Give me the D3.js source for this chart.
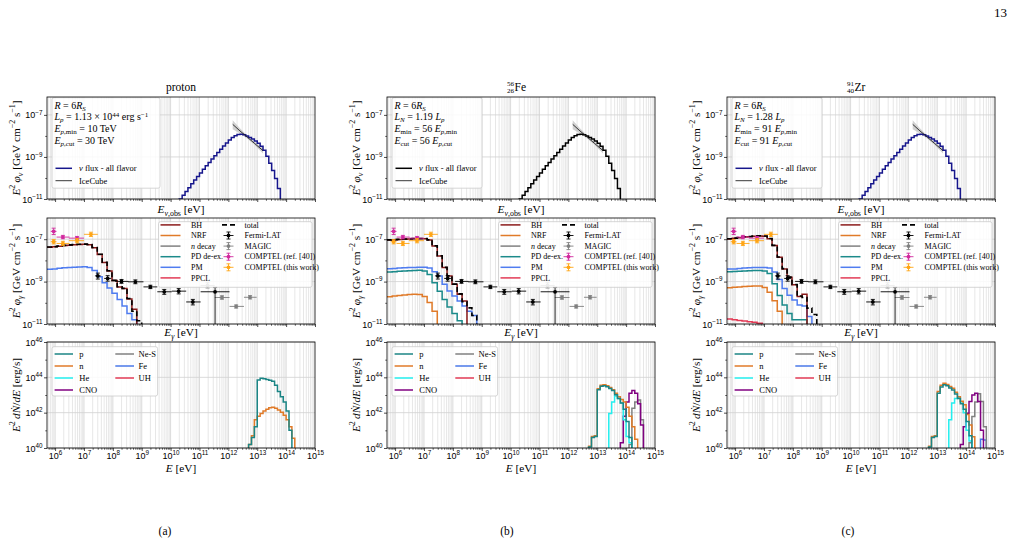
<!DOCTYPE html>
<html>
<head>
<meta charset="utf-8">
<script src="https://cdnjs.cloudflare.com/ajax/libs/d3/7.8.5/d3.min.js"></script>
<style>
  body { margin: 0; background: #fff; }
  svg { font-family: "Liberation Serif", "DejaVu Serif", serif; }
</style>
</head>
<body>
<div id="fig"></div>
<script>
// ---- values (all log10) ----

// neutrino flux, E^2 phi_nu (same shape in the three columns)
var nuE = [10.2, 10.3, 10.4, 10.5, 10.6, 10.7, 10.8, 10.9, 11.0, 11.1, 11.2, 11.3, 11.4, 11.5, 11.6, 11.7, 11.8, 11.9, 12.0,
           12.1, 12.2, 12.3, 12.4, 12.5, 12.6, 12.7, 12.8, 12.9, 13.0, 13.1, 13.2, 13.3, 13.4, 13.5, 13.6, 13.7, 13.8, 13.9];
var nuFlux = [-11.2, -11.0, -10.82, -10.64, -10.46, -10.28, -10.1, -9.93, -9.76, -9.59, -9.42, -9.26, -9.1, -8.94, -8.79, -8.64, -8.48, -8.34, -8.2,
              -8.08, -7.99, -7.93, -7.92, -7.95, -8.0, -8.07, -8.15, -8.24, -8.35, -8.49, -8.68, -8.97, -9.3, -9.64, -10.02, -10.5, -11.1, -11.8];

// IceCube fit with band
var icE = [12.15, 12.4, 12.65, 12.9, 13.2];
var icFit = [-7.45, -7.76, -8.05, -8.35, -8.7];
var icLo = [-7.68, -7.88, -8.12, -8.42, -8.84];
var icHi = [-7.25, -7.63, -7.98, -8.28, -8.57];

// gamma-ray components, E^2 phi_gamma
var gE = [5.72, 5.9, 6.07, 6.24, 6.42, 6.59, 6.76, 6.94, 7.11, 7.28, 7.46, 7.63, 7.8, 7.97, 8.15, 8.32, 8.49, 8.66, 8.83, 9.0];
var bhP   = [-7.38, -7.36, -7.33, -7.3, -7.28, -7.26, -7.25, -7.24, -7.26, -7.4, -7.72, -8.1, -8.5, -8.95, -9.25, -9.33, -9.82, -10.3, -12, -12];
var totP  = [-7.37, -7.35, -7.32, -7.29, -7.27, -7.25, -7.24, -7.23, -7.25, -7.39, -7.71, -8.09, -8.49, -8.94, -9.24, -9.32, -9.8, -10.4, -10.85, -12];
var pmP   = [-8.42, -8.4, -8.37, -8.35, -8.33, -8.32, -8.31, -8.3, -8.34, -8.48, -8.77, -9.05, -9.3, -9.55, -9.85, -10.15, -10.5, -10.8, -12, -12];

var bhFe  = [-7.04, -7.03, -7.02, -7.0, -6.99, -6.98, -6.98, -6.98, -7.04, -7.32, -7.79, -8.34, -8.74, -9.13, -9.6, -9.92, -12, -12, -12, -12];
var totFe = [-7.03, -7.02, -7.01, -6.99, -6.98, -6.97, -6.97, -6.97, -7.03, -7.31, -7.78, -8.33, -8.73, -9.12, -9.58, -9.95, -10.24, -10.6, -12, -12];
var nrfFe = [-9.71, -9.68, -9.65, -9.63, -9.61, -9.6, -9.61, -9.7, -9.98, -10.4, -12, -12, -12, -12, -12, -12, -12, -12, -12, -12];
var pdFe  = [-8.55, -8.53, -8.51, -8.5, -8.49, -8.48, -8.47, -8.5, -8.66, -9.05, -9.45, -9.85, -10.2, -10.5, -10.85, -12, -12, -12, -12, -12];
var pmFe  = [-8.39, -8.38, -8.36, -8.35, -8.34, -8.33, -8.32, -8.32, -8.36, -8.53, -8.74, -9.13, -9.44, -9.68, -9.92, -10.15, -10.4, -10.6, -12, -12];

var bhZr  = [-6.99, -6.96, -6.93, -6.9, -6.88, -6.86, -6.85, -6.86, -6.98, -7.3, -7.85, -8.4, -8.8, -9.15, -9.7, -9.6, -12, -12, -12, -12];
var totZr = [-6.98, -6.95, -6.92, -6.89, -6.87, -6.85, -6.84, -6.85, -6.97, -7.29, -7.84, -8.39, -8.79, -9.14, -9.68, -9.75, -10.25, -10.55, -12, -12];
var nrfZr = [-9.29, -9.27, -9.25, -9.23, -9.22, -9.21, -9.21, -9.28, -9.5, -9.9, -10.4, -12, -12, -12, -12, -12, -12, -12, -12, -12];
var pdZr  = [-8.53, -8.52, -8.51, -8.5, -8.49, -8.48, -8.48, -8.5, -8.62, -9.1, -9.65, -10.1, -10.5, -10.8, -10.8, -10.8, -12, -12, -12, -12];
var pmZr  = [-8.41, -8.4, -8.38, -8.36, -8.35, -8.34, -8.33, -8.33, -8.36, -8.55, -8.9, -9.32, -9.64, -9.87, -10.1, -10.15, -10.65, -12, -12, -12];
var ppclZr = [-10.77, -10.8, -10.83, -10.86, -10.89, -10.92, -10.96, -12, -12, -12, -12, -12, -12, -12, -12, -12, -12, -12, -12, -12];

// gamma-ray data points
var fermiE   = [7.48, 7.82, 8.3, 8.78, 9.3, 9.78, 10.28, 10.77, 11.54];
var fermiElo = [7.38, 7.7, 8.08, 8.52, 9.06, 9.54, 10.04, 10.54, 11.04];
var fermiEhi = [7.58, 7.94, 8.54, 9.06, 9.54, 10.04, 10.54, 11.04, 12.04];
var fermiY   = [-8.73, -8.85, -8.99, -9.01, -9.25, -9.48, -9.45, -9.96, -9.48];
var fermiYlo = [-8.88, -8.98, -9.08, -9.1, -9.33, -9.6, -9.58, -10.1, -12];
var fermiYhi = [-8.6, -8.72, -8.9, -8.92, -9.17, -9.37, -9.33, -9.84, -9.27];

var magicE   = [11.28, 11.78, 12.27, 12.75];
var magicElo = [11.04, 11.53, 12.04, 12.54];
var magicEhi = [11.53, 12.04, 12.54, 12.98];
var magicY   = [-9.18, -9.75, -10.17, -9.74];
var magicYlo = [-9.3, -9.83, -10.25, -9.82];
var magicYhi = [-9.05, -9.67, -10.1, -9.66];

var compRefE   = [5.95, 6.27, 6.76];
var compRefElo = [5.85, 6.05, 6.48];
var compRefEhi = [6.05, 6.5, 7.0];
var compRefY   = [-6.63, -6.9, -6.95];
var compRefYlo = [-6.78, -6.98, -7.03];
var compRefYhi = [-6.48, -6.82, -6.87];

var compE   = [5.95, 6.27, 6.76, 7.24];
var compElo = [5.85, 6.05, 6.48, 7.0];
var compEhi = [6.05, 6.5, 7.0, 7.48];
var compY   = [-7.12, -7.2, -7.07, -6.77];
var compYlo = [-7.22, -7.3, -7.17, -6.87];
var compYhi = [-7.02, -7.1, -6.97, -6.67];

// escaping nuclei, E^2 dN/dE  (39 = below the axis)
var nE = [12.6, 12.7, 12.8, 12.9, 13.0, 13.1, 13.2, 13.3, 13.4, 13.5, 13.6, 13.7, 13.8, 13.9, 14.0, 14.1, 14.2, 14.3, 14.4, 14.5, 14.6, 14.7, 14.8];
var pP   = [39, 40.2, 40.6, 41.2, 43.85, 43.95, 43.92, 43.88, 43.83, 43.78, 43.55, 43.2, 42.9, 42.6, 42.1, 41.0, 39, 39, 39, 39, 39, 39, 39];
var nP   = [39, 40.2, 40.7, 41.6, 41.8, 41.95, 42.1, 42.2, 42.28, 42.3, 42.25, 42.15, 42.03, 41.85, 41.6, 41.2, 40.55, 39, 39, 39, 39, 39, 39];

var pFe   = [39, 40.05, 40.6, 40.65, 43.3, 43.5, 43.53, 43.47, 43.37, 43.25, 43.02, 42.8, 42.55, 42.2, 41.5, 40.6, 39, 39, 39, 39, 39, 39, 39];
var nFe   = [39, 40.1, 40.65, 40.7, 43.35, 43.55, 43.58, 43.52, 43.42, 43.3, 43.1, 42.9, 42.75, 42.6, 42.3, 41.8, 41.2, 40.5, 39, 39, 39, 39, 39];
var heFe  = [39, 39, 39, 39, 39, 39, 39, 39, 41.95, 42.6, 42.95, 42.8, 42.55, 41.6, 40.65, 40.3, 39, 39, 39, 39, 39, 39, 39];
var cnoFe = [39, 39, 39, 39, 39, 39, 39, 39, 39, 39, 39, 39, 40.3, 41.8, 42.6, 43.1, 43.25, 43.1, 42.5, 41.3, 39, 39, 39];
var nesFe = [39, 39, 39, 39, 39, 39, 39, 39, 39, 39, 39, 39, 39, 39, 39, 40.2, 42.25, 42.6, 42.72, 41.6, 39, 39, 39];

var pZr   = [39, 40.05, 40.6, 40.65, 43.1, 43.45, 43.58, 43.52, 43.4, 43.28, 43.05, 42.8, 42.5, 42.2, 41.5, 40.7, 39, 39, 39, 39, 39, 39, 39];
var nZr   = [39, 40.1, 40.65, 40.7, 43.2, 43.55, 43.67, 43.6, 43.48, 43.38, 43.15, 42.9, 42.65, 42.45, 41.9, 41.3, 40.64, 39, 39, 39, 39, 39, 39];
var heZr  = [39, 39, 39, 39, 39, 39, 39, 39, 41.6, 42.55, 42.8, 42.85, 42.6, 42.0, 41.0, 40.4, 39, 39, 39, 39, 39, 39, 39];
var cnoZr = [39, 39, 39, 39, 39, 39, 39, 39, 39, 39, 39, 39, 40.2, 41.2, 41.97, 42.63, 43.0, 43.1, 42.63, 41.0, 39, 39, 39];
var nesZr = [39, 39, 39, 39, 39, 39, 39, 39, 39, 39, 39, 39, 39, 39, 39, 40.3, 41.78, 42.6, 43.07, 42.63, 41.2, 39, 39];
var feZr  = [39, 39, 39, 39, 39, 39, 39, 39, 39, 39, 39, 39, 39, 39, 39, 39, 39, 39, 39, 40.5, 40.45, 39, 39];

// ---- colours ----
var C = {
  navy: "#16168c", BH: "#8b1a1a", NRF: "#e07a28", ndec: "#808080", PD: "#1b8a8a", PM: "#4f7cf0", PPCL: "#e23a55",
  fermi: "#000000", magic: "#7f7f7f", compRef: "#d1299e", comp: "#ffa515",
  p: "#1b8585", n: "#e07a28", He: "#22eeee", CNO: "#800080", NeS: "#808080", Fe: "#4a78e8", UH: "#e23a55"
};

// ---- layout ----
var svgWidth = 1019, svgHeight = 546;
var PW = 268;
var colLeft = [47, 387, 727];
var rowTop = {top: 97, mid: 218, bot: 342};
var rowH = {top: 102, mid: 106, bot: 106};
var LABFS = 11.3;

var svg = d3.select("#fig").append("svg")
  .attr("width", svgWidth)
  .attr("height", svgHeight);

var xScale = d3.scaleLog().domain([Math.pow(10, 5.72), 1e15]).range([0, PW]);
var yScales = {
  top: d3.scaleLog().domain([1e-11, Math.pow(10, -6.15)]).range([rowH.top, 0]),
  mid: d3.scaleLog().domain([1e-11, 1e-6]).range([rowH.mid, 0]),
  bot: d3.scaleLog().domain([1e40, 1e46]).range([rowH.bot, 0])
};
var yMajor = {top: [-11, -9, -7], mid: [-11, -9, -7], bot: [40, 42, 44, 46]};
var yMinorDec = {top: [-10, -8], mid: [-10, -8], bot: [41, 43, 45]};

var xMajor = d3.range(6, 16).map(function(n) { return Math.pow(10, n); });
var xMinor = [];
for (var n = 5; n < 15; n++) {
  for (var k = 2; k < 10; k++) {
    var v = k * Math.pow(10, n);
    if (v > Math.pow(10, 5.72) && v < 1e15) xMinor.push(v);
  }
}

// text with italics / sub / superscripts
// kinds: "" roman, "i" italic, "s" sub, "is" italic sub, "p" sup, "ip" italic sup
function rich(t, parts, fs, subF, supF) {
  var shift = 0;
  subF = subF || 0.28;
  supF = supF || 0.42;
  parts.forEach(function(pt) {
    var s = pt[0], kd = pt[1];
    var sp = t.append("tspan").text(s);
    var target = 0;
    var small = kd.indexOf("s") >= 0 || kd.indexOf("p") >= 0;
    if (kd.indexOf("s") >= 0) target = fs * subF;
    if (kd.indexOf("p") >= 0) target = -fs * supF;
    if (target - shift !== 0) sp.attr("dy", target - shift);
    shift = target;
    if (small) sp.attr("font-size", fs * 0.7);
    if (kd.indexOf("i") >= 0) sp.attr("font-style", "italic");
  });
  return t;
}

function lg(a) { return Math.pow(10, a); }

var clipCount = 0;
function makePanel(ci, row, showXLabels) {
  var h = rowH[row];
  var y = yScales[row];
  var g = svg.append("g").attr("transform", "translate(" + colLeft[ci] + "," + rowTop[row] + ")");
  var cid = "clip" + (clipCount++);
  svg.append("clipPath").attr("id", cid).append("rect").attr("width", PW).attr("height", h);

  // grid
  var grid = g.append("g");
  grid.selectAll(".gmin").data(xMinor).enter().append("line")
    .attr("x1", function(d) { return xScale(d); }).attr("x2", function(d) { return xScale(d); })
    .attr("y1", 0).attr("y2", h).attr("stroke", "#e1e1e1").attr("stroke-width", 0.8);
  grid.selectAll(".gmaj").data(xMajor.slice(0, 9)).enter().append("line")
    .attr("x1", function(d) { return xScale(d); }).attr("x2", function(d) { return xScale(d); })
    .attr("y1", 0).attr("y2", h).attr("stroke", "#d0d0d0").attr("stroke-width", 0.8);
  grid.selectAll(".gy").data(yMajor[row]).enter().append("line")
    .attr("x1", 0).attr("x2", PW)
    .attr("y1", function(d) { return y(lg(d)); }).attr("y2", function(d) { return y(lg(d)); })
    .attr("stroke", "#d0d0d0").attr("stroke-width", 0.8);

  var plot = g.append("g").attr("clip-path", "url(#" + cid + ")");

  // axes
  var bottomAxis = d3.axisBottom(xScale).tickValues(xMajor).tickSize(3).tickFormat(function() { return ""; });
  var axB = g.append("g").attr("transform", "translate(0," + h + ")").call(bottomAxis);
  axB.select(".domain").remove();
  var minorAxis = d3.axisBottom(xScale).tickValues(xMinor).tickSize(1.8).tickFormat(function() { return ""; });
  var axBm = g.append("g").attr("transform", "translate(0," + h + ")").call(minorAxis);
  axBm.select(".domain").remove();
  axB.selectAll("line").attr("stroke-width", 0.7);
  axBm.selectAll("line").attr("stroke-width", 0.6);
  if (showXLabels) {
    axB.selectAll(".tick").each(function(d) {
      var t = d3.select(this).append("text").attr("y", 11).attr("fill", "#000")
        .attr("font-size", 9).attr("text-anchor", "middle").attr("dy", 0);
      rich(t, [["10", ""], [String(Math.round(Math.log10(d))), "p"]], 9);
    });
  }

  var leftAxis = d3.axisLeft(y).tickValues(yMajor[row].map(lg)).tickSize(3).tickFormat(function() { return ""; });
  var axL = g.append("g").call(leftAxis);
  axL.select(".domain").remove();
  axL.selectAll("line").attr("stroke-width", 0.7);
  axL.selectAll(".tick").each(function(d) {
    var e = Math.round(Math.log10(d));
    var t = d3.select(this).append("text").attr("x", -4.5).attr("y", 3).attr("fill", "#000")
      .attr("font-size", 9).attr("text-anchor", "end").attr("dy", 0);
    rich(t, [["10", ""], [String(e).replace("-", "\u2212"), "p"]], 9);
  });
  var minorLeft = d3.axisLeft(y).tickValues(yMinorDec[row].map(lg)).tickSize(1.8).tickFormat(function() { return ""; });
  var axLm = g.append("g").call(minorLeft);
  axLm.select(".domain").remove();
  axLm.selectAll("line").attr("stroke-width", 0.6);

  return {g: g, plot: plot, h: h, y: y, frame: function() {
    g.append("rect").attr("width", PW).attr("height", h).attr("fill", "none").attr("stroke", "#000").attr("stroke-width", 0.8);
  }};
}

function stepLine(p, E, Y, color, w, dash) {
  var pts = E.map(function(e, i) { return [lg(e), lg(Y[i])]; });
  var line = d3.line()
    .x(function(d) { return xScale(d[0]); })
    .y(function(d) { return p.y(d[1]); })
    .curve(d3.curveStepAfter);
  var path = p.plot.append("path").datum(pts)
    .attr("d", line).attr("fill", "none").attr("stroke", color).attr("stroke-width", w || 1.4);
  if (dash) path.attr("stroke-dasharray", dash);
  return path;
}

function errPoints(p, E, Elo, Ehi, Y, Ylo, Yhi, color) {
  var gg = p.plot.append("g").attr("stroke", color).attr("stroke-width", 0.9);
  E.forEach(function(e, i) {
    var cx = xScale(lg(e)), cy = p.y(lg(Y[i]));
    var y1 = p.y(lg(Ylo[i])), y2 = p.y(lg(Yhi[i]));
    gg.append("line").attr("x1", xScale(lg(Elo[i]))).attr("x2", xScale(lg(Ehi[i]))).attr("y1", cy).attr("y2", cy);
    gg.append("line").attr("x1", cx).attr("x2", cx).attr("y1", y1).attr("y2", y2);
    gg.append("line").attr("x1", cx - 2).attr("x2", cx + 2).attr("y1", y1).attr("y2", y1);
    gg.append("line").attr("x1", cx - 2).attr("x2", cx + 2).attr("y1", y2).attr("y2", y2);
    gg.append("circle").attr("cx", cx).attr("cy", cy).attr("r", 1.9).attr("fill", color).attr("stroke", "none");
  });
}

function legendBox(g, x0, y0, w, h) {
  g.append("rect").attr("x", x0).attr("y", y0).attr("width", w).attr("height", h).attr("rx", 2)
    .attr("fill", "#fff").attr("fill-opacity", 0.85).attr("stroke", "#cccccc").attr("stroke-width", 0.8);
}

function legText(g, x0, y0, parts, fs, subF, supF) {
  var t = g.append("text").attr("x", x0).attr("y", y0).attr("font-size", fs).attr("fill", "#000");
  rich(t, parts, fs, subF, supF);
}

// ---- column descriptions ----
var columns = [
  {
    title: "proton", nuColor: C.navy, boxW: 108,
    params: [
      [["R", "i"], [" = 6", ""], ["R", "i"], ["S", "is"]],
      [["L", "i"], ["p", "is"], [" = 1.13 \u00d7 10", ""], ["44", "p"], [" erg s", ""], ["\u22121", "p"]],
      [["E", "i"], ["p", "is"], [",min", "s"], [" = 10 TeV", ""]],
      [["E", "i"], ["p", "is"], [",cut", "s"], [" = 30 TeV", ""]]
    ],
    gamma: [[pmP, C.PM], [bhP, C.BH]], total: totP,
    nuclei: [[nP, C.n], [pP, C.p]]
  },
  {
    title: "Fe", A: "56", Z: "26", nuColor: "#000000", boxW: 90,
    params: [
      [["R", "i"], [" = 6", ""], ["R", "i"], ["S", "is"]],
      [["L", "i"], ["N", "is"], [" = 1.19 ", ""], ["L", "i"], ["p", "is"]],
      [["E", "i"], ["min", "s"], [" = 56 ", ""], ["E", "i"], ["p", "is"], [",min", "s"]],
      [["E", "i"], ["cut", "s"], [" = 56 ", ""], ["E", "i"], ["p", "is"], [",cut", "s"]]
    ],
    gamma: [[nrfFe, C.NRF], [pdFe, C.PD], [pmFe, C.PM], [bhFe, C.BH]], total: totFe,
    nuclei: [[nesFe, C.NeS], [cnoFe, C.CNO], [heFe, C.He], [nFe, C.n], [pFe, C.p]]
  },
  {
    title: "Zr", A: "91", Z: "40", nuColor: C.navy, boxW: 90,
    params: [
      [["R", "i"], [" = 6", ""], ["R", "i"], ["S", "is"]],
      [["L", "i"], ["N", "is"], [" = 1.28 ", ""], ["L", "i"], ["p", "is"]],
      [["E", "i"], ["min", "s"], [" = 91 ", ""], ["E", "i"], ["p", "is"], [",min", "s"]],
      [["E", "i"], ["cut", "s"], [" = 91 ", ""], ["E", "i"], ["p", "is"], [",cut", "s"]]
    ],
    gamma: [[ppclZr, C.PPCL], [nrfZr, C.NRF], [pdZr, C.PD], [pmZr, C.PM], [bhZr, C.BH]], total: totZr,
    nuclei: [[feZr, C.Fe], [nesZr, C.NeS], [cnoZr, C.CNO], [heZr, C.He], [nZr, C.n], [pZr, C.p]]
  }
];

columns.forEach(function(col, ci) {
  var cx = colLeft[ci] + PW / 2;

  // title
  if (col.A) {
    svg.append("text").attr("x", cx - 7).attr("y", 86).attr("font-size", 7).attr("text-anchor", "end").text(col.A);
    svg.append("text").attr("x", cx - 7).attr("y", 92.5).attr("font-size", 7).attr("text-anchor", "end").text(col.Z);
    svg.append("text").attr("x", cx - 6.5).attr("y", 91).attr("font-size", 11.5).text(col.title);
  } else {
    svg.append("text").attr("x", cx).attr("y", 91).attr("font-size", 11.5).attr("text-anchor", "middle").text(col.title);
  }

  // ---------- top: neutrinos ----------
  var pt = makePanel(ci, "top", false);
  var band = d3.area()
    .x(function(d) { return xScale(lg(d[0])); })
    .y0(function(d) { return pt.y(lg(d[1])); })
    .y1(function(d) { return pt.y(lg(d[2])); });
  pt.plot.append("path").datum(icE.map(function(e, i) { return [e, icLo[i], icHi[i]]; }))
    .attr("d", band).attr("fill", "#bdbdbd").attr("fill-opacity", 0.7);
  stepLine(pt, nuE, nuFlux, col.nuColor, 1.5);
  pt.plot.append("path").datum(icE.map(function(e, i) { return [lg(e), lg(icFit[i])]; }))
    .attr("d", d3.line().x(function(d) { return xScale(d[0]); }).y(function(d) { return pt.y(d[1]); }))
    .attr("fill", "none").attr("stroke", "#222").attr("stroke-width", 0.9);
  legendBox(pt.g, 5, 0.7, col.boxW, 90.5);
  col.params.forEach(function(pp, i) { legText(pt.g, 7.5, 11.8 + i * 11.6, pp, 10, 0.2, 0.34); });
  pt.g.append("line").attr("x1", 8.5).attr("x2", 25).attr("y1", 71.3).attr("y2", 71.3).attr("stroke", col.nuColor).attr("stroke-width", 1.5);
  legText(pt.g, 32, 74.2, [["\u03bd", "i"], [" flux - all flavor", ""]], 8.5);
  pt.g.append("line").attr("x1", 8.5).attr("x2", 25).attr("y1", 83.7).attr("y2", 83.7).attr("stroke", "#222").attr("stroke-width", 0.9);
  legText(pt.g, 32, 86.7, [["IceCube", ""]], 8.5);
  pt.frame();
  var tx = pt.g.append("text").attr("x", PW / 2).attr("y", pt.h + 13.5).attr("font-size", LABFS).attr("text-anchor", "middle");
  rich(tx, [["E", "i"], ["\u03bd", "is"], [",obs", "s"], [" [eV]", ""]], LABFS);
  var ty = pt.g.append("text").attr("transform", "translate(-27.5," + (pt.h / 2) + ") rotate(-90)")
    .attr("font-size", LABFS).attr("text-anchor", "middle");
  rich(ty, [["E", "i"], ["2", "p"], ["\u2009\u03c6", "i"], ["\u03bd", "is"], [" [GeV cm", ""], ["\u22122", "p"], [" s", ""], ["\u22121", "p"], ["]", ""]], LABFS);

  // ---------- middle: gamma rays ----------
  var pm = makePanel(ci, "mid", false);
  col.gamma.forEach(function(s) { stepLine(pm, gE, s[0], s[1], 1.5); });
  stepLine(pm, gE, col.total, "#000", 1.6, "5,3");
  errPoints(pm, compRefE, compRefElo, compRefEhi, compRefY, compRefYlo, compRefYhi, C.compRef);
  errPoints(pm, compE, compElo, compEhi, compY, compYlo, compYhi, C.comp);
  errPoints(pm, magicE, magicElo, magicEhi, magicY, magicYlo, magicYhi, C.magic);
  errPoints(pm, fermiE, fermiElo, fermiEhi, fermiY, fermiYlo, fermiYhi, C.fermi);

  legendBox(pm.g, 111.5, 3.7, 153.5, 65.6);
  var legA = [["BH", C.BH, [["BH", ""]]], ["NRF", C.NRF, [["NRF", ""]]], ["nd", C.ndec, [["n", "i"], [" decay", ""]]],
              ["PD", C.PD, [["PD de-ex.", ""]]], ["PM", C.PM, [["PM", ""]]], ["PPCL", C.PPCL, [["PPCL", ""]]]];
  legA.forEach(function(L, i) {
    var yy = 9.6 + i * 10.6;
    pm.g.append("line").attr("x1", 113.5).attr("x2", 133.5).attr("y1", yy - 2.7).attr("y2", yy - 2.7)
      .attr("stroke", L[1]).attr("stroke-width", 1.5);
    legText(pm.g, 144, yy, L[2], 8);
  });
  var legB = [["total", "#000"], ["Fermi-LAT", C.fermi], ["MAGIC", C.magic], ["COMPTEL (ref. [40])", C.compRef], ["COMPTEL (this work)", C.comp]];
  legB.forEach(function(L, i) {
    var yy = 9.6 + i * 10.6, ly = yy - 2.7, sx = 181.5;
    if (i === 0) {
      pm.g.append("line").attr("x1", 175).attr("x2", 188).attr("y1", ly).attr("y2", ly)
        .attr("stroke", "#000").attr("stroke-width", 1.6).attr("stroke-dasharray", "5,3");
    } else {
      var sg = pm.g.append("g").attr("stroke", L[1]).attr("stroke-width", 0.9);
      sg.append("line").attr("x1", sx - 5).attr("x2", sx + 5).attr("y1", ly).attr("y2", ly);
      sg.append("line").attr("x1", sx).attr("x2", sx).attr("y1", ly - 3.5).attr("y2", ly + 3.5);
      sg.append("line").attr("x1", sx - 2).attr("x2", sx + 2).attr("y1", ly - 3.5).attr("y2", ly - 3.5);
      sg.append("line").attr("x1", sx - 2).attr("x2", sx + 2).attr("y1", ly + 3.5).attr("y2", ly + 3.5);
      sg.append("circle").attr("cx", sx).attr("cy", ly).attr("r", 1.9).attr("fill", L[1]).attr("stroke", "none");
    }
    legText(pm.g, 197.5, yy, [[L[0], ""]], 8);
  });
  pm.frame();
  var tx2 = pm.g.append("text").attr("x", PW / 2).attr("y", pm.h + 12).attr("font-size", LABFS).attr("text-anchor", "middle");
  rich(tx2, [["E", "i"], ["\u03b3", "is"], [" [eV]", ""]], LABFS);
  var ty2 = pm.g.append("text").attr("transform", "translate(-27.5," + (pm.h / 2) + ") rotate(-90)")
    .attr("font-size", LABFS).attr("text-anchor", "middle");
  rich(ty2, [["E", "i"], ["2", "p"], ["\u2009\u03c6", "i"], ["\u03b3", "is"], [" [GeV cm", ""], ["\u22122", "p"], [" s", ""], ["\u22121", "p"], ["]", ""]], LABFS);

  // ---------- bottom: escaping nuclei ----------
  var pb = makePanel(ci, "bot", true);
  col.nuclei.forEach(function(s) { stepLine(pb, nE, s[0], s[1], 1.5); });
  legendBox(pb.g, 5, 4.7, 105.6, 49.3);
  var legN = [["p", C.p], ["n", C.n], ["He", C.He], ["CNO", C.CNO]];
  var legN2 = [["Ne-S", C.NeS], ["Fe", C.Fe], ["UH", C.UH]];
  legN.forEach(function(L, i) {
    var yy = 12 + i * 12;
    pb.g.append("line").attr("x1", 7.6).attr("x2", 26).attr("y1", yy).attr("y2", yy).attr("stroke", L[1]).attr("stroke-width", 1.5);
    legText(pb.g, 32.3, yy + 2.9, [[L[0], ""]], 8.5);
  });
  legN2.forEach(function(L, i) {
    var yy = 12 + i * 12;
    pb.g.append("line").attr("x1", 68.3).attr("x2", 87).attr("y1", yy).attr("y2", yy).attr("stroke", L[1]).attr("stroke-width", 1.5);
    legText(pb.g, 91.6, yy + 2.9, [[L[0], ""]], 8.5);
  });
  pb.frame();
  var tx3 = pb.g.append("text").attr("x", PW / 2).attr("y", pb.h + 24).attr("font-size", LABFS).attr("text-anchor", "middle");
  rich(tx3, [["E", "i"], [" [eV]", ""]], LABFS);
  var ty3 = pb.g.append("text").attr("transform", "translate(-27.5," + (pb.h / 2) + ") rotate(-90)")
    .attr("font-size", LABFS).attr("text-anchor", "middle");
  rich(ty3, [["E", "i"], ["2", "p"], ["\u2009d", "i"], ["N\u0307", "i"], ["/", ""], ["dE", "i"], [" [erg/s]", ""]], LABFS);
});

// sub-figure labels and page number
[["(a)", 165], ["(b)", 507], ["(c)", 848]].forEach(function(s) {
  svg.append("text").attr("x", s[1]).attr("y", 535).attr("font-size", 11.5).attr("text-anchor", "middle").text(s[0]);
});
svg.append("text").attr("x", 1007).attr("y", 17).attr("font-size", 13).attr("text-anchor", "end").text("13");
</script>
</body>
</html>
